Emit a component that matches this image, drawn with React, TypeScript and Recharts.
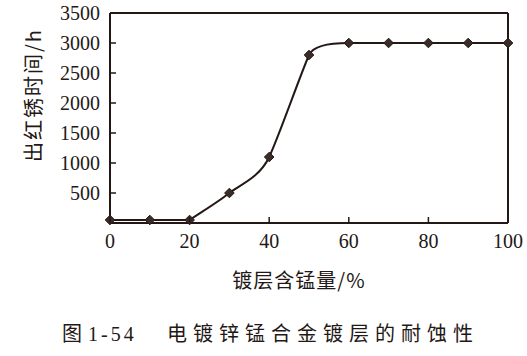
import { LineChart, Line, XAxis, YAxis, ReferenceLine } from 'recharts'

// 镀层含锰量 (%) vs 出红锈时间 (h)
const mnContent = [0, 10, 20, 30, 40, 50, 60, 70, 80, 90, 100]
const rustHours = [50, 50, 50, 500, 1100, 2800, 3000, 3000, 3000, 3000, 3000]
const xTicks = [0, 20, 40, 60, 80, 100]
const yTicks = [500, 1000, 1500, 2000, 2500, 3000, 3500]

const data = mnContent.map((mn, i) => ({ mn, hours: rustHours[i] }))

const INK = '#231815'
const SERIF = '"Liberation Serif", "Times New Roman", "DejaVu Serif", serif'
const CJK = '"Noto Sans CJK SC", sans-serif'

// hand-drawn look: steep tangents, short handles clipped so the curve never overshoots a point
function smoothCurve(context: any) {
  let pts: [number, number][] = []
  const flush = () => {
    const n = pts.length
    if (!n) return
    context.moveTo(pts[0][0], pts[0][1])
    if (n === 1) return
    const d: number[] = []
    for (let i = 0; i < n - 1; i++) {
      d.push((pts[i + 1][1] - pts[i][1]) / (pts[i + 1][0] - pts[i][0]))
    }
    const m: number[] = pts.map((_, i) => {
      if (i === 0) return d[0]
      if (i === n - 1) return d[n - 2]
      const a = d[i - 1]
      const b = d[i]
      if (b === 0) return 0
      if (a === 0) return b
      if (a * b < 0) return 0
      return (a * a + b * b) / (a + b)
    })
    const handle = (slope: number, dx: number, dy: number) => {
      let hx = dx / 4
      if (slope === 0) return hx
      if (dy === 0 || Math.sign(slope) !== Math.sign(dy)) return 0
      if (Math.abs(slope * hx) > Math.abs(dy)) hx = Math.abs(dy / slope)
      return hx
    }
    for (let i = 0; i < n - 1; i++) {
      const [x0, y0] = pts[i]
      const [x1, y1] = pts[i + 1]
      const dx = x1 - x0
      const dy = y1 - y0
      const h0 = handle(m[i], dx, dy)
      const h1 = handle(m[i + 1], dx, dy)
      context.bezierCurveTo(x0 + h0, y0 + m[i] * h0, x1 - h1, y1 - m[i + 1] * h1, x1, y1)
    }
  }
  return {
    areaStart() {},
    areaEnd() {},
    lineStart() {
      pts = []
    },
    lineEnd() {
      flush()
    },
    point(x: number, y: number) {
      pts.push([+x, +y])
    },
  }
}

function XTick({ x, y, payload }: any) {
  return (
    <g>
      <line x1={x} x2={x} y1={y} y2={y - 6} stroke={INK} strokeWidth={1.5} />
      <text x={x} y={y + 25} textAnchor="middle" fill={INK} fontSize={20} fontFamily={SERIF}>
        {payload.value}
      </text>
    </g>
  )
}

function YTick({ x, y, payload }: any) {
  return (
    <g>
      <line x1={x} x2={x + 6} y1={y} y2={y} stroke={INK} strokeWidth={1.5} />
      <text x={x - 10} y={y} dy="0.35em" textAnchor="end" fill={INK} fontSize={20} fontFamily={SERIF}>
        {payload.value}
      </text>
    </g>
  )
}

function Diamond({ cx, cy }: any) {
  if (cx == null || cy == null) return null
  const r = 4.8
  return (
    <polygon
      points={`${cx},${cy - r} ${cx + r},${cy} ${cx},${cy + r} ${cx - r},${cy}`}
      fill="#3a2c28"
      stroke={INK}
      strokeWidth={1}
    />
  )
}

export default function App() {
  return (
    <div
      style={{
        position: 'absolute',
        left: 0,
        top: 0,
        width: 527,
        height: 356,
        background: '#fff',
        color: INK,
      }}
    >
      <LineChart
        width={527}
        height={356}
        data={data}
        margin={{ top: 13, right: 19, left: 0, bottom: 0 }}
      >
        <XAxis
          dataKey="mn"
          type="number"
          domain={[0, 100]}
          ticks={xTicks}
          height={133}
          tickSize={0}
          tickMargin={0}
          tickLine={false}
          axisLine={{ stroke: INK, strokeWidth: 2 }}
          tick={<XTick />}
        />
        <YAxis
          type="number"
          domain={[0, 3500]}
          ticks={yTicks}
          width={110}
          tickSize={0}
          tickMargin={0}
          tickLine={false}
          axisLine={{ stroke: INK, strokeWidth: 2 }}
          tick={<YTick />}
        />
        <ReferenceLine y={3500} stroke={INK} strokeWidth={2} />
        <ReferenceLine x={100} stroke={INK} strokeWidth={2} />
        <Line
          type={smoothCurve as any}
          dataKey="hours"
          stroke={INK}
          strokeWidth={2}
          dot={<Diamond />}
          activeDot={false}
          isAnimationActive={false}
        />
      </LineChart>

      <div
        style={{
          position: 'absolute',
          left: 33,
          top: 95,
          transform: 'translate(-50%, -50%) rotate(-90deg)',
          whiteSpace: 'nowrap',
          fontFamily: CJK,
          fontSize: 20,
          lineHeight: '22px',
          letterSpacing: 2,
        }}
      >
        出红锈时间/h
      </div>

      <div
        style={{
          position: 'absolute',
          left: 299,
          top: 280,
          transform: 'translate(-50%, -50%)',
          whiteSpace: 'nowrap',
          fontFamily: CJK,
          fontSize: 20,
          lineHeight: '22px',
          letterSpacing: 1,
        }}
      >
        镀层含锰量/%
      </div>

      <div
        style={{
          position: 'absolute',
          left: 62,
          top: 322,
          whiteSpace: 'nowrap',
          fontFamily: CJK,
          fontSize: 20,
          lineHeight: '22px',
        }}
      >
        <span style={{ marginRight: 6 }}>图</span>
        <span style={{ fontFamily: SERIF, letterSpacing: 3 }}>1-54</span>
        <span style={{ position: 'absolute', left: 105, top: 0, letterSpacing: 6 }}>
          电镀锌锰合金镀层的耐蚀性
        </span>
      </div>
    </div>
  )
}
